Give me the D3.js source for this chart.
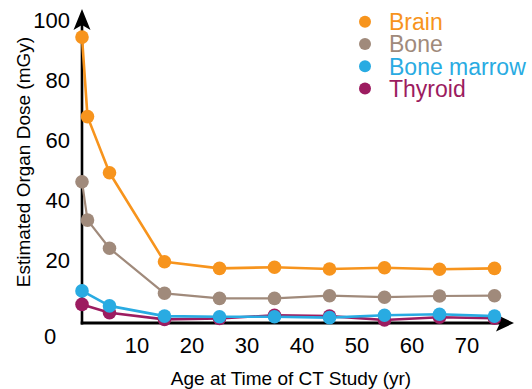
<!DOCTYPE html>
<html>
<head>
<meta charset="utf-8">
<script src="https://cdn.jsdelivr.net/npm/d3@7/dist/d3.min.js"></script>
<style>
  html, body { margin: 0; padding: 0; background: #fff; }
  svg { display: block; font-family: "Liberation Sans", Arial, Helvetica, sans-serif; }
</style>
</head>
<body>
<svg id="chart" width="532" height="389"></svg>
<script>
// Estimated organ dose by age at time of CT study
const agesFull = [0, 1, 5, 15, 25, 35, 45, 55, 65, 75];
const agesShort = [0, 5, 15, 25, 35, 45, 55, 65, 75];

const brain      = [94.3, 67.8, 49.1, 19.4, 17.2, 17.6, 17.0, 17.4, 16.9, 17.2];
const bone       = [46.1, 33.3, 23.9, 8.9, 7.2, 7.2, 8.1, 7.6, 8.0, 8.1];
const boneMarrow = [9.7, 4.7, 1.3, 1.1, 1.1, 0.8, 1.6, 1.9, 1.3];
const thyroid    = [5.2, 2.4, 0.2, 0.5, 1.6, 1.3, 0.0, 0.9, 0.6];

const seriesNames = ["Brain", "Bone", "Bone marrow", "Thyroid"];
const seriesColors = ["#F7941D", "#A08A7B", "#29ABE2", "#9C1C60"];

const yTicks = [0, 20, 40, 60, 80, 100];
const xTicks = [10, 20, 30, 40, 50, 60, 70];

const xTitle = "Age at Time of CT Study (yr)";
const yTitle = "Estimated Organ Dose (mGy)";

const svg = d3.select("#chart");

const x = d3.scaleLinear().domain([0, 75]).range([82, 494.5]);
const y = d3.scaleLinear().domain([0, 100]).range([320, 20]);

const axisY = y(0) + 3;   // baseline sits a little below zero
const axisX = x(0);

// series drawn back to front
const series = [
  { name: seriesNames[0], color: seriesColors[0], ages: agesFull,  vals: brain,      width: 2.6 },
  { name: seriesNames[1], color: seriesColors[1], ages: agesFull,  vals: bone,       width: 2.2 },
  { name: seriesNames[3], color: seriesColors[3], ages: agesShort, vals: thyroid,    width: 2.6 },
  { name: seriesNames[2], color: seriesColors[2], ages: agesShort, vals: boneMarrow, width: 2.6 }
];

// axes lines
const axes = svg.append("g");
axes.append("line")
  .attr("x1", axisX).attr("x2", axisX)
  .attr("y1", axisY + 1.5).attr("y2", 24)
  .attr("stroke", "#000").attr("stroke-width", 2.6);
axes.append("line")
  .attr("x1", axisX - 1.3).attr("x2", 502)
  .attr("y1", axisY).attr("y2", axisY)
  .attr("stroke", "#000").attr("stroke-width", 3);

// arrowheads
axes.append("path")
  .attr("d", `M${axisX},9 L${axisX + 8.5},30 L${axisX},25 L${axisX - 8.5},30 Z`)
  .attr("fill", "#000");
axes.append("path")
  .attr("d", `M514,${axisY} L496,${axisY - 8.5} L500,${axisY} L496,${axisY + 8.5} Z`)
  .attr("fill", "#000");

// lines
const line = d3.line().x(d => x(d[0])).y(d => y(d[1]));
const plot = svg.append("g");
series.forEach(s => {
  plot.append("path")
    .datum(s.ages.map((a, i) => [a, s.vals[i]]))
    .attr("d", line)
    .attr("fill", "none")
    .attr("stroke", s.color)
    .attr("stroke-width", s.width)
    .attr("stroke-linejoin", "round");
});
// markers
series.forEach(s => {
  plot.selectAll(null)
    .data(s.ages.map((a, i) => [a, s.vals[i]]))
    .join("circle")
    .attr("cx", d => x(d[0]))
    .attr("cy", d => y(d[1]))
    .attr("r", 6.8)
    .attr("fill", s.color);
});

// y tick labels
svg.append("g").selectAll("text")
  .data(yTicks)
  .join("text")
  .attr("x", d => d === 0 ? 50 : 70)
  .attr("y", d => d === 0 ? 336 : y(d))
  .attr("text-anchor", d => d === 0 ? "middle" : "end")
  .attr("dominant-baseline", "central")
  .attr("font-size", 22)
  .attr("fill", "#000")
  .text(d => d);

// x tick labels
svg.append("g").selectAll("text")
  .data(xTicks)
  .join("text")
  .attr("x", d => x(d))
  .attr("y", 345)
  .attr("text-anchor", "middle")
  .attr("dominant-baseline", "central")
  .attr("font-size", 22)
  .attr("fill", "#000")
  .text(d => d);

// axis titles
svg.append("text")
  .attr("x", 291).attr("y", 385)
  .attr("text-anchor", "middle")
  .attr("font-size", 19)
  .attr("fill", "#000")
  .text(xTitle);

svg.append("text")
  .attr("transform", "translate(30,162) rotate(-90)")
  .attr("text-anchor", "middle")
  .attr("font-size", 19)
  .attr("fill", "#000")
  .text(yTitle);

// legend
const legend = svg.append("g");
seriesNames.forEach((name, i) => {
  const cy = 21.7 + i * 22.3;
  legend.append("circle")
    .attr("cx", 365).attr("cy", cy).attr("r", 6)
    .attr("fill", seriesColors[i]);
  legend.append("text")
    .attr("x", 389).attr("y", cy + 8.2)
    .attr("font-size", 23)
    .attr("fill", seriesColors[i])
    .text(name);
});
</script>
</body>
</html>
